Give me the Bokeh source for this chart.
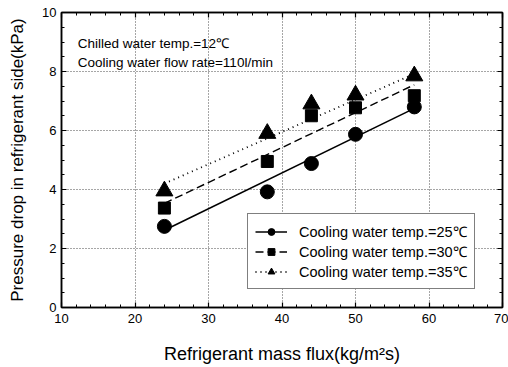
import math
from bokeh.plotting import figure
from bokeh.models import (Range1d, LinearAxis, Label, Legend, LegendItem,
                          SingleIntervalTicker)
from bokeh.embed import file_html
from bokeh.resources import INLINE

# ---------------- data ----------------
mass_flux = [24, 38, 44, 50, 58]
dp_25 = [2.75, 3.92, 4.88, 5.87, 6.8]
dp_30 = [3.37, 4.95, 6.5, 6.77, 7.18]
dp_35 = [3.95, 5.9, 6.9, 7.2, 7.85]

fit_x = [24, 58]
fit_25 = [2.62, 6.75]
fit_30 = [3.53, 7.55]
fit_35 = [4.2, 7.92]

labels = ["Cooling water temp.=25\u2103",
          "Cooling water temp.=30\u2103",
          "Cooling water temp.=35\u2103"]
note1 = "Chilled water temp.=12\u2103"
note2 = "Cooling water flow rate=110l/min"
x_title = "Refrigerant mass flux(kg/m\u00b2s)"
y_title = "Pressure drop in refrigerant side(kPa)"

FONT = "Liberation Sans"

p = figure(width=508, height=367, output_backend="svg", toolbar_location=None,
           x_range=Range1d(10, 70), y_range=Range1d(0, 10),
           min_border_left=61, min_border_right=6, min_border_top=12,
           min_border_bottom=60)
p.background_fill_color = "white"
p.border_fill_color = "white"
p.outline_line_color = "black"
p.outline_line_width = 1.5

# grid
for g in (p.xgrid, p.ygrid):
    g.grid_line_color = "black"
    g.grid_line_alpha = 0.7
    g.grid_line_dash = "1 2"
    g.grid_line_width = 1
p.xgrid.ticker = SingleIntervalTicker(interval=10, num_minor_ticks=5)
p.ygrid.ticker = SingleIntervalTicker(interval=2, num_minor_ticks=4)

def style_axis(ax, show_labels=True):
    ax.axis_line_color = "black"
    ax.axis_line_width = 1.5
    ax.major_tick_in = 5
    ax.major_tick_out = 0
    ax.minor_tick_in = 3
    ax.minor_tick_out = 0
    ax.major_tick_line_color = "black"
    ax.minor_tick_line_color = "black"
    ax.major_tick_line_width = 1.2
    ax.minor_tick_line_width = 1
    ax.major_label_text_font = FONT
    ax.major_label_text_font_size = "13px"
    ax.major_label_text_color = "black"
    if not show_labels:
        ax.major_label_text_color = None
        ax.major_label_text_font_size = "1px"
        ax.major_label_standoff = 0

p.xaxis.ticker = SingleIntervalTicker(interval=10, num_minor_ticks=5)
p.yaxis.ticker = SingleIntervalTicker(interval=2, num_minor_ticks=4)
style_axis(p.xaxis[0])
style_axis(p.yaxis[0])
p.xaxis.major_label_standoff = 6
p.yaxis.major_label_standoff = 5

p.xaxis.axis_label = x_title
p.xaxis.axis_label_text_font = FONT
p.xaxis.axis_label_text_font_size = "18px"
p.xaxis.axis_label_text_font_style = "normal"
p.xaxis.axis_label_standoff = 18
p.xaxis.axis_label_text_color = "black"

p.yaxis.axis_label = y_title
p.yaxis.axis_label_text_font = FONT
p.yaxis.axis_label_text_font_size = "17px"
p.yaxis.axis_label_text_font_style = "normal"
p.yaxis.axis_label_standoff = 12
p.yaxis.axis_label_text_color = "black"

top = LinearAxis(ticker=SingleIntervalTicker(interval=10, num_minor_ticks=5))
style_axis(top, False)
p.add_layout(top, "above")
right = LinearAxis(ticker=SingleIntervalTicker(interval=2, num_minor_ticks=4))
style_axis(right, False)
p.add_layout(right, "right")

# fit lines
l25 = p.line(fit_x, fit_25, line_color="black", line_width=1.6)
l30 = p.line(fit_x, fit_30, line_color="black", line_width=1.4, line_dash="8 4")
l35 = p.line(fit_x, fit_35, line_color="black", line_width=1.8, line_dash="1 4")

s25 = p.scatter(mass_flux, dp_25, marker="circle", size=14, fill_color="black",
                line_color="black")
s30 = p.scatter(mass_flux, dp_30, marker="square", size=12, fill_color="black",
                line_color="black")
s35 = p.scatter(mass_flux, dp_35, marker="triangle", size=17, fill_color="black",
                line_color="black")

# notes
p.add_layout(Label(x=12.2, y=8.95, text=note1, text_baseline="middle",
                   text_font=FONT, text_font_size="13.5px", text_color="black"))
p.add_layout(Label(x=12.2, y=8.3, text=note2, text_baseline="middle",
                   text_font=FONT, text_font_size="13.5px", text_color="black"))

legend = Legend(items=[LegendItem(label=labels[0], renderers=[l25, s25]),
                       LegendItem(label=labels[1], renderers=[l30, s30]),
                       LegendItem(label=labels[2], renderers=[l35, s35])],
                location=(186, 18))
legend.border_line_color = "black"
legend.border_line_width = 1.2
legend.background_fill_color = "white"
legend.background_fill_alpha = 1
legend.padding = 7
legend.margin = 0
legend.spacing = 0
legend.glyph_width = 32
legend.glyph_height = 17
legend.label_height = 17
legend.label_standoff = 12
legend.label_text_font = FONT
legend.label_text_font_size = "14.5px"
legend.label_text_color = "black"
p.add_layout(legend)

open("out.html", "w").write(file_html(p, INLINE))
